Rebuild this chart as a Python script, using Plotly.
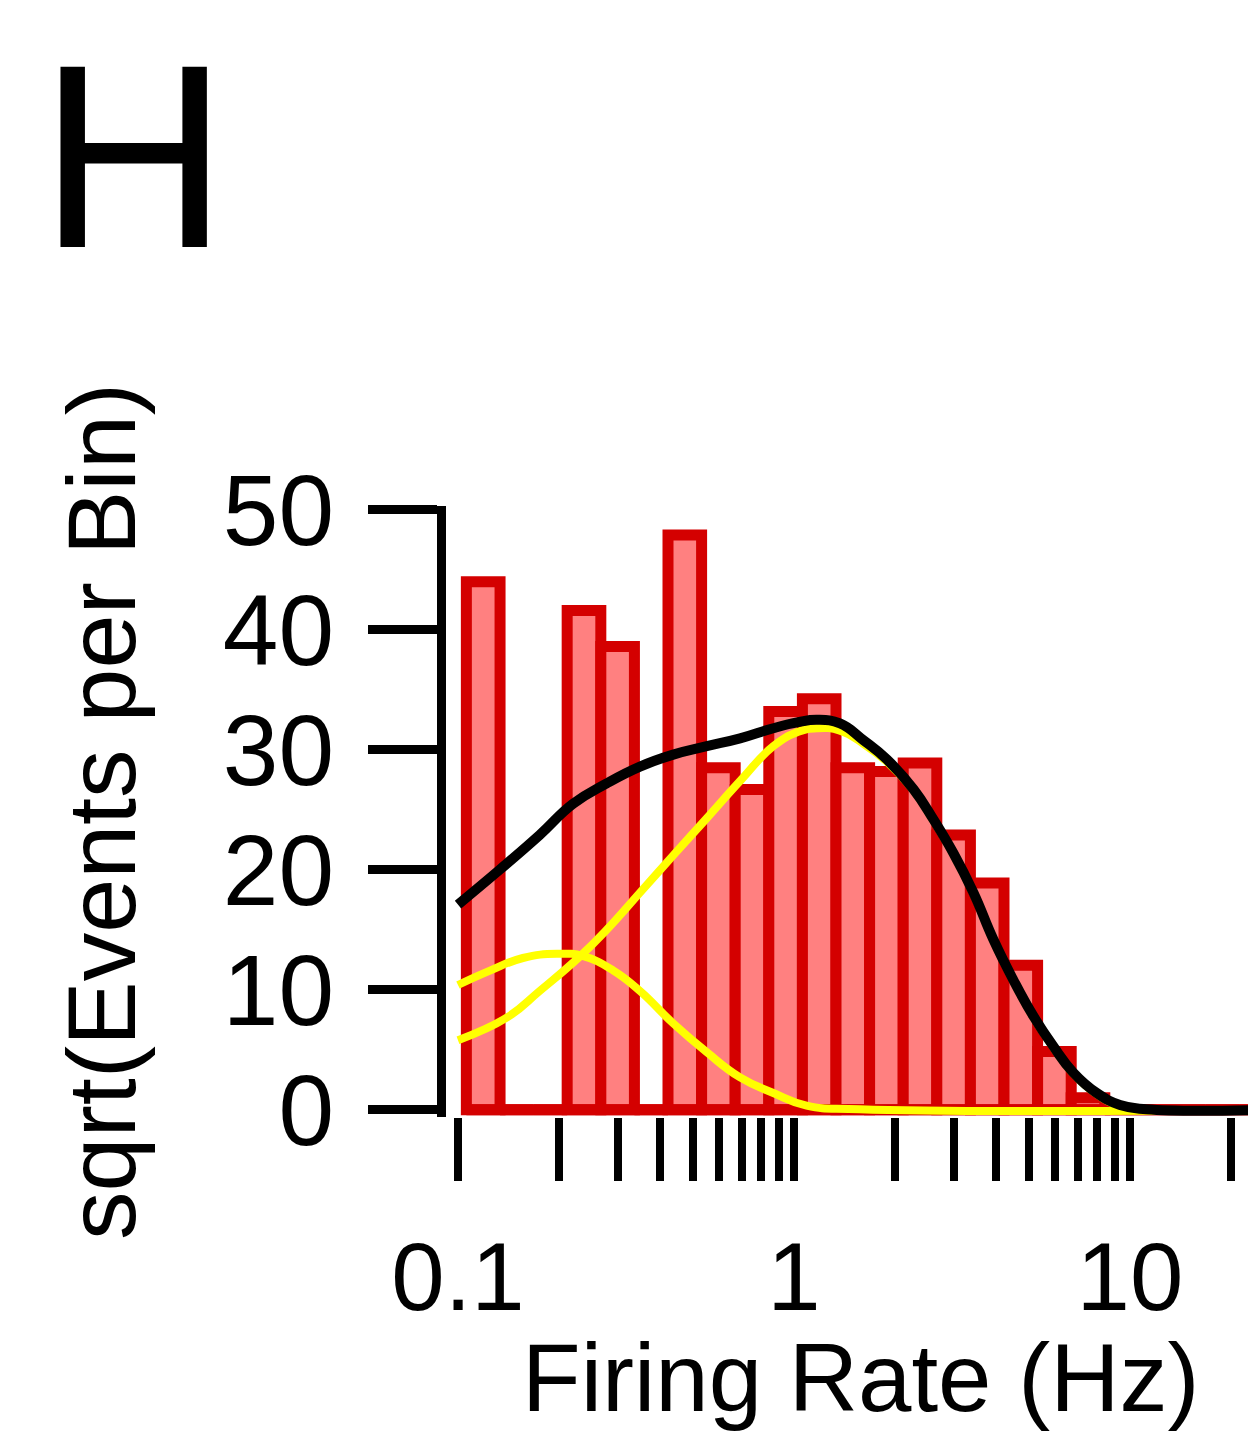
import math
import plotly.graph_objects as go

# ---- data -------------------------------------------------------------
# Histogram of firing rates, log-spaced bins (0.1 decade wide), edges in Hz
bin_edges = [0.1059, 0.1334, 0.1679, 0.2113, 0.2661, 0.3350, 0.4217, 0.5309,
             0.6683, 0.8414, 1.0593, 1.3335, 1.6788, 2.1135, 2.6607, 3.3497,
             4.2170, 5.3088, 6.6834, 8.4140, 10.593, 13.335, 16.788, 21.135,
             26.607]
# sqrt(events per bin) for each bin
sqrt_counts = [44.0, 0, 0, 41.6, 38.6, 0, 47.9, 28.5, 26.7, 33.2, 34.25, 28.5,
               28.2, 28.9, 22.9, 18.9, 12.05, 4.86, 1.0, 0, 0, 0, 0, 0]

# Two-component fit: total (black) and its components (yellow)
total_rate = [0.100, 0.133, 0.175, 0.220, 0.277, 0.348, 0.437, 0.550, 0.691,
              0.868, 1.03, 1.17, 1.37, 1.61, 1.89, 2.27, 2.60, 2.98, 3.42,
              3.92, 4.50, 5.16, 5.91, 6.78, 7.96, 9.34, 11.2, 25.0]
total_fit = [17.1, 20.0, 22.9, 25.5, 27.2, 28.6, 29.6, 30.3, 30.95, 31.8,
             32.3, 32.5, 32.2, 30.8, 29.2, 26.7, 24.2, 21.4, 18.1, 14.2, 10.8,
             7.8, 5.3, 3.1, 1.4, 0.4, 0.05, 0.0]

high_rate = [0.100, 0.140, 0.175, 0.231, 0.277, 0.348, 0.437, 0.550, 0.691,
             0.868, 1.03, 1.17, 1.37, 1.61, 1.89, 2.27, 2.60, 2.98, 3.42,
             3.92, 4.50, 5.16, 5.91, 6.78, 7.96, 9.34, 11.2, 25.0]
high_fit = [5.8, 7.7, 9.9, 12.8, 15.0, 18.1, 21.2, 24.3, 27.4, 30.3, 31.5,
            31.8, 31.6, 30.5, 29.0, 26.6, 24.1, 21.3, 18.0, 14.1, 10.7, 7.7,
            5.2, 3.0, 1.3, 0.3, 0.0, 0.0]

low_rate = [0.100, 0.1245, 0.156, 0.197, 0.236, 0.290, 0.348, 0.437, 0.550,
            0.691, 0.868, 1.09, 1.57, 25.0]
low_fit = [10.4, 11.6, 12.65, 13.0, 12.8, 11.6, 9.9, 7.2, 4.8, 2.7, 1.4, 0.35,
           0.05, 0.0]

x_tick_vals = [0.1, 0.2, 0.3, 0.4, 0.5, 0.6, 0.7, 0.8, 0.9,
               1, 2, 3, 4, 5, 6, 7, 8, 9, 10, 20]
x_tick_text = ["0.1", "", "", "", "", "", "", "", "",
               "1", "", "", "", "", "", "", "", "", "10", ""]
y_tick_vals = [0, 10, 20, 30, 40, 50]

# ---- styling ----------------------------------------------------------
FONT = "Liberation Sans, Arial, Helvetica, sans-serif"
BAR_FILL = "#FF8080"
BAR_EDGE = "#D40000"
FIT_TOTAL = "#000000"
FIT_PART = "#FFFF00"

W, H = 1248, 1445
M_L, M_R, M_T, M_B = 446, 0, 506, 328
PLOT_W = W - M_L - M_R
PLOT_H = H - M_T - M_B

# Bars on a log axis: centre and width given in linear Hz
bin_lo = bin_edges[:-1]
bin_hi = bin_edges[1:]
bar_x = [(a + b) / 2 for a, b in zip(bin_lo, bin_hi)]
bar_w = [b - a for a, b in zip(bin_lo, bin_hi)]

fig = go.Figure()

fig.add_trace(go.Bar(
    x=bar_x, y=sqrt_counts, width=bar_w,
    marker=dict(color=BAR_FILL, line=dict(color=BAR_EDGE, width=11)),
    hoverinfo="skip", showlegend=False,
))

# empty bins leave only the bar outline along zero
fig.add_trace(go.Scatter(
    x=[bin_edges[0], bin_edges[-1]], y=[0, 0], mode="lines",
    line=dict(color=BAR_EDGE, width=11), hoverinfo="skip", showlegend=False,
))

for rx, ry in ((low_rate, low_fit), (high_rate, high_fit)):
    fig.add_trace(go.Scatter(
        x=rx, y=ry, mode="lines",
        line=dict(color=FIT_PART, width=8, shape="spline", smoothing=1.3),
        hoverinfo="skip", showlegend=False,
    ))

fig.add_trace(go.Scatter(
    x=total_rate, y=total_fit, mode="lines",
    line=dict(color=FIT_TOTAL, width=10, shape="spline", smoothing=1.3),
    hoverinfo="skip", showlegend=False,
))

# x axis spans 0.1 Hz (at 12 px from the left edge) at 336 px per decade
px_per_decade = 336.0
x_lo = -1 - 12 / px_per_decade
x_hi = x_lo + PLOT_W / px_per_decade

# y axis: 12 px per unit, zero sits a little above the bottom edge
y_lo = -0.6
y_hi = y_lo + PLOT_H / 12.0


def paper_x(px):
    return (px - M_L) / PLOT_W


def paper_y(py):
    return (H - M_B - py) / PLOT_H


fig.update_layout(
    width=W, height=H,
    margin=dict(l=M_L, r=M_R, t=M_T, b=M_B, pad=0),
    paper_bgcolor="white", plot_bgcolor="white",
    font=dict(family=FONT, color="black"),
    barmode="overlay",
    xaxis=dict(
        type="log", range=[x_lo, x_hi], autorange=False,
        showgrid=False, zeroline=False, showline=False,
        tickmode="array", tickvals=x_tick_vals, ticktext=x_tick_text,
        ticks="outside", ticklen=63, tickwidth=8, tickcolor="black",
        tickfont=dict(size=96, family=FONT, color="black"),
        ticklabelstandoff=14, automargin=False,
    ),
    yaxis=dict(
        range=[y_lo, y_hi], autorange=False,
        showgrid=False, zeroline=False,
        showline=True, linewidth=9, linecolor="black",
        tickmode="array", tickvals=y_tick_vals,
        ticks="outside", ticklen=69, tickwidth=9, tickcolor="black",
        tickfont=dict(size=100, family=FONT, color="black"),
        ticklabelstandoff=14, automargin=False,
    ),
    annotations=[
        dict(text="Firing Rate (Hz)", xref="paper", yref="paper",
             x=paper_x(860), y=paper_y(1377), xanchor="center",
             yanchor="middle", showarrow=False,
             font=dict(size=96, family=FONT, color="black")),
        dict(text="sqrt(Events per Bin)", xref="paper", yref="paper",
             x=paper_x(101), y=paper_y(812), xanchor="center",
             yanchor="middle", textangle=-90, showarrow=False,
             font=dict(size=97, family=FONT, color="black")),
        dict(text="H", xref="paper", yref="paper",
             x=paper_x(38), y=paper_y(156), xanchor="left",
             yanchor="middle", showarrow=False, borderpad=0,
             font=dict(size=262, family=FONT, color="black")),
    ],
)

fig.write_html("out.html")
